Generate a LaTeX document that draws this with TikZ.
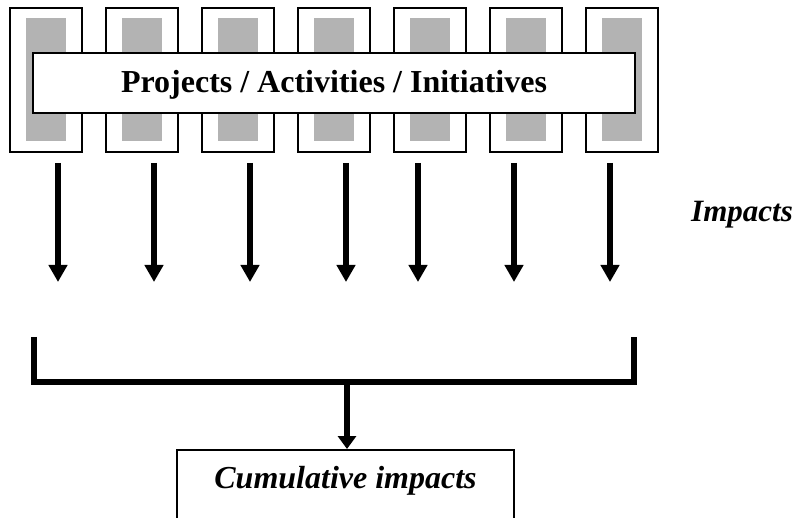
\documentclass[tikz,border=0pt]{standalone}
\usepackage{fontspec}
\setmainfont{Liberation Serif}
\usetikzlibrary{arrows.meta,positioning}
\definecolor{coreGray}{RGB}{179,179,179}

\begin{document}
\begin{tikzpicture}[x=1pt,y=-1pt,
  projbox/.style={draw,line width=1.8pt,minimum width=72pt,minimum height=144pt,inner sep=0pt},
  core/.style={fill=coreGray,minimum width=40pt,minimum height=123pt,inner sep=0pt},
  impact/.style={line width=5.5pt,-{Triangle[length=17pt,width=18pt]}},
  bracket/.style={line width=6pt,line join=miter}]
\useasboundingbox (0,0) rectangle (795,518);
\clip (0,0) rectangle (795,518);
\foreach \x [count=\i] in {46,142,238,334,430,526,622} {
  \node[projbox] (proj\i) at (\x,80) {};
  \node[core] (core\i) at (\x,79.5) {};
}
\node[draw,line width=2pt,fill=white,minimum width=602pt,minimum height=60pt,text height=19pt,text depth=0pt] (banner) at (334,83)
  {\fontsize{32}{34}\selectfont\bfseries Projects / Activities / Initiatives};
\foreach \x [count=\i] in {58,154,250,346,418,514,610} {
  \coordinate (top\i) at (\x,163);
  \coordinate (tip\i) at (\x,282);
  \draw[impact] (top\i) -- (tip\i);
}
\node[anchor=base] (impacts) at (742,222) {\fontsize{31}{33}\selectfont\bfseries\itshape Impacts};
\coordinate (bl) at (34,337);
\coordinate (br) at (634,337);
\coordinate (join) at (347,382);
\draw[bracket] (bl) |- (join) -| (br);
\node[draw,line width=1.5pt,minimum width=337pt,inner ysep=19pt,text height=20pt,text depth=50pt,anchor=north] (cum) at (345.5,449)
  {\fontsize{32}{34}\selectfont\bfseries\itshape Cumulative impacts};
\draw[line width=5.5pt,-{Triangle[length=13pt,width=18pt]}] (join) -- (join |- cum.north);
\end{tikzpicture}
\end{document}
